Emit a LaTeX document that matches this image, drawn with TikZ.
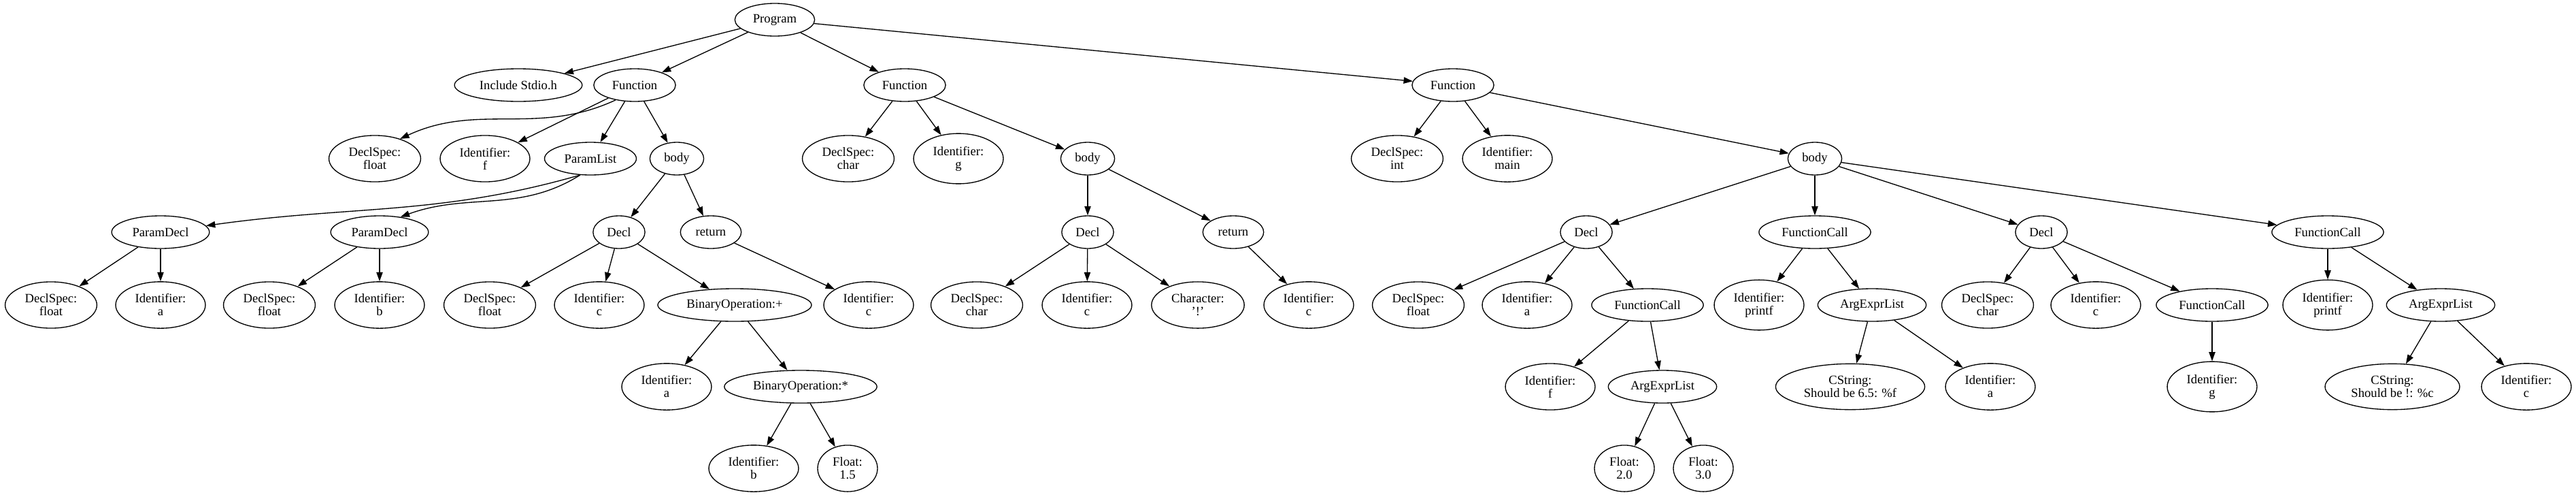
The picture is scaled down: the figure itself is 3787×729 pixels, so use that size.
\documentclass[tikz,border=0pt]{standalone}
\usepackage{fontspec}
\setmainfont{Liberation Serif}
\usetikzlibrary{arrows.meta,shapes.geometric}

\begin{document}
\begin{tikzpicture}[x=0.75pt, y=0.75pt, >={Triangle[length=10pt,width=7pt]},
    ast/.style={draw, ellipse, line width=1pt, align=center, inner xsep=7pt, inner ysep=6pt,
      minimum width=54pt, minimum height=36pt, font=\fontsize{14}{14.25}\selectfont},
    link/.style={draw, ->, line width=1pt}]
        \useasboundingbox (0,0) rectangle (3787,-729);

        % Root and functions
        \node [ast] (program) at (1139,-29) {Program};
        \node [ast] (incl) at (762,-125) {Include Stdio.h};
        \node [ast] (func1) at (933,-125) {Function};
        \node [ast] (func2) at (1330,-125) {Function};
        \node [ast] (func3) at (2136,-125) {Function};

        % Function f
        \node [ast] (f1spec) at (551,-233) {DeclSpec:\\float};
        \node [ast] (f1id) at (713,-233) {Identifier:\\f};
        \node [ast] (plist) at (868,-233) {ParamList};
        \node [ast, minimum width=58pt] (f1body) at (995,-233) {body};
        \node [ast] (pdecl1) at (236,-341) {ParamDecl};
        \node [ast] (pdecl2) at (558,-341) {ParamDecl};
        \node [ast] (f1decl) at (910,-341) {Decl};
        \node [ast] (f1ret) at (1045,-341) {return};
        \node [ast] (pd1spec) at (75,-448) {DeclSpec:\\float};
        \node [ast] (pd1id) at (236,-448) {Identifier:\\a};
        \node [ast] (pd2spec) at (396,-448) {DeclSpec:\\float};
        \node [ast] (pd2id) at (558,-448) {Identifier:\\b};
        \node [ast] (d1spec) at (720,-448) {DeclSpec:\\float};
        \node [ast] (d1id) at (881,-448) {Identifier:\\c};
        \node [ast] (binplus) at (1080,-448) {BinaryOperation:+};
        \node [ast] (ret1id) at (1277,-448) {Identifier:\\c};
        \node [ast] (plusid) at (980,-568) {Identifier:\\a};
        \node [ast] (bintimes) at (1177,-568) {BinaryOperation:*};
        \node [ast] (timesid) at (1108,-688) {Identifier:\\b};
        \node [ast] (timesval) at (1246,-688) {Float:\\1.5};

        % Function g
        \node [ast] (f2spec) at (1247,-233) {DeclSpec:\\char};
        \node [ast] (f2id) at (1409,-233) {Identifier:\\g};
        \node [ast, minimum width=58pt] (f2body) at (1599,-233) {body};
        \node [ast] (f2decl) at (1599,-341) {Decl};
        \node [ast] (f2ret) at (1813,-341) {return};
        \node [ast] (d2spec) at (1436,-448) {DeclSpec:\\char};
        \node [ast] (d2id) at (1598,-448) {Identifier:\\c};
        \node [ast] (d2char) at (1761,-448) {Character:\\'!'};
        \node [ast] (ret2id) at (1924,-448) {Identifier:\\c};

        % Function main
        \node [ast] (f3spec) at (2054,-233) {DeclSpec:\\int};
        \node [ast] (f3id) at (2216,-233) {Identifier:\\main};
        \node [ast, minimum width=58pt] (f3body) at (2668,-233) {body};
        \node [ast] (f3decl1) at (2332,-341) {Decl};
        \node [ast] (f3call1) at (2668,-341) {FunctionCall};
        \node [ast] (f3decl2) at (3001,-341) {Decl};
        \node [ast] (f3call2) at (3422,-341) {FunctionCall};
        \node [ast] (d3spec) at (2085,-448) {DeclSpec:\\float};
        \node [ast] (d3id) at (2245,-448) {Identifier:\\a};
        \node [ast] (d3call) at (2422,-448) {FunctionCall};
        \node [ast] (c1id) at (2586,-448) {Identifier:\\printf};
        \node [ast] (c1args) at (2752,-448) {ArgExprList};
        \node [ast] (d4spec) at (2922,-448) {DeclSpec:\\char};
        \node [ast] (d4id) at (3081,-448) {Identifier:\\c};
        \node [ast] (d4call) at (3252,-448) {FunctionCall};
        \node [ast] (c2id) at (3422,-448) {Identifier:\\printf};
        \node [ast] (c2args) at (3588,-448) {ArgExprList};
        \node [ast] (d3callid) at (2279,-568) {Identifier:\\f};
        \node [ast] (d3args) at (2444,-568) {ArgExprList};
        \node [ast] (c1str) at (2720,-568) {CString:\\Should be 6.5: \%f};
        \node [ast] (c1arg) at (2926,-568) {Identifier:\\a};
        \node [ast] (d4callid) at (3252,-568) {Identifier:\\g};
        \node [ast] (c2str) at (3517,-568) {CString:\\Should be !: \%c};
        \node [ast] (c2arg) at (3714,-568) {Identifier:\\c};
        \node [ast] (d3arg1) at (2388,-688) {Float:\\2.0};
        \node [ast] (d3arg2) at (2504,-688) {Float:\\3.0};

        % Paths
        \path [link] (program) -- (incl);
        \path [link] (program) -- (func1);
        \path [link] (program) -- (func2);
        \path [link] (program) -- (func3);

        \path [link] (func1.218) to[out=205, in=25] (f1spec.38);
        \path [link] (func1) -- (f1id);
        \path [link] (func1) -- (plist);
        \path [link] (func1) -- (f1body);
        \path [link] (plist.238) to[out=196, in=8] (pdecl1.8);
        \path [link] (plist.238) to[out=212, in=20] (pdecl2.36);
        \path [link] (pdecl1) -- (pd1spec);
        \path [link] (pdecl1) -- (pd1id);
        \path [link] (pdecl2) -- (pd2spec);
        \path [link] (pdecl2) -- (pd2id);
        \path [link] (f1body) -- (f1decl);
        \path [link] (f1body) -- (f1ret);
        \path [link] (f1decl) -- (d1spec);
        \path [link] (f1decl) -- (d1id);
        \path [link] (f1decl) -- (binplus);
        \path [link] (f1ret) -- (ret1id);
        \path [link] (binplus) -- (plusid);
        \path [link] (binplus) -- (bintimes);
        \path [link] (bintimes) -- (timesid);
        \path [link] (bintimes) -- (timesval);

        \path [link] (func2) -- (f2spec);
        \path [link] (func2) -- (f2id);
        \path [link] (func2) -- (f2body);
        \path [link] (f2body) -- (f2decl);
        \path [link] (f2body) -- (f2ret);
        \path [link] (f2decl) -- (d2spec);
        \path [link] (f2decl) -- (d2id);
        \path [link] (f2decl) -- (d2char);
        \path [link] (f2ret) -- (ret2id);

        \path [link] (func3) -- (f3spec);
        \path [link] (func3) -- (f3id);
        \path [link] (func3) -- (f3body);
        \path [link] (f3body) -- (f3decl1);
        \path [link] (f3body) -- (f3call1);
        \path [link] (f3body) -- (f3decl2);
        \path [link] (f3body) -- (f3call2);
        \path [link] (f3decl1) -- (d3spec);
        \path [link] (f3decl1) -- (d3id);
        \path [link] (f3decl1) -- (d3call);
        \path [link] (d3call) -- (d3callid);
        \path [link] (d3call) -- (d3args);
        \path [link] (d3args) -- (d3arg1);
        \path [link] (d3args) -- (d3arg2);
        \path [link] (f3call1) -- (c1id);
        \path [link] (f3call1) -- (c1args);
        \path [link] (c1args) -- (c1str);
        \path [link] (c1args) -- (c1arg);
        \path [link] (f3decl2) -- (d4spec);
        \path [link] (f3decl2) -- (d4id);
        \path [link] (f3decl2) -- (d4call);
        \path [link] (d4call) -- (d4callid);
        \path [link] (f3call2) -- (c2id);
        \path [link] (f3call2) -- (c2args);
        \path [link] (c2args) -- (c2str);
        \path [link] (c2args) -- (c2arg);
    \end{tikzpicture}
\end{document}
